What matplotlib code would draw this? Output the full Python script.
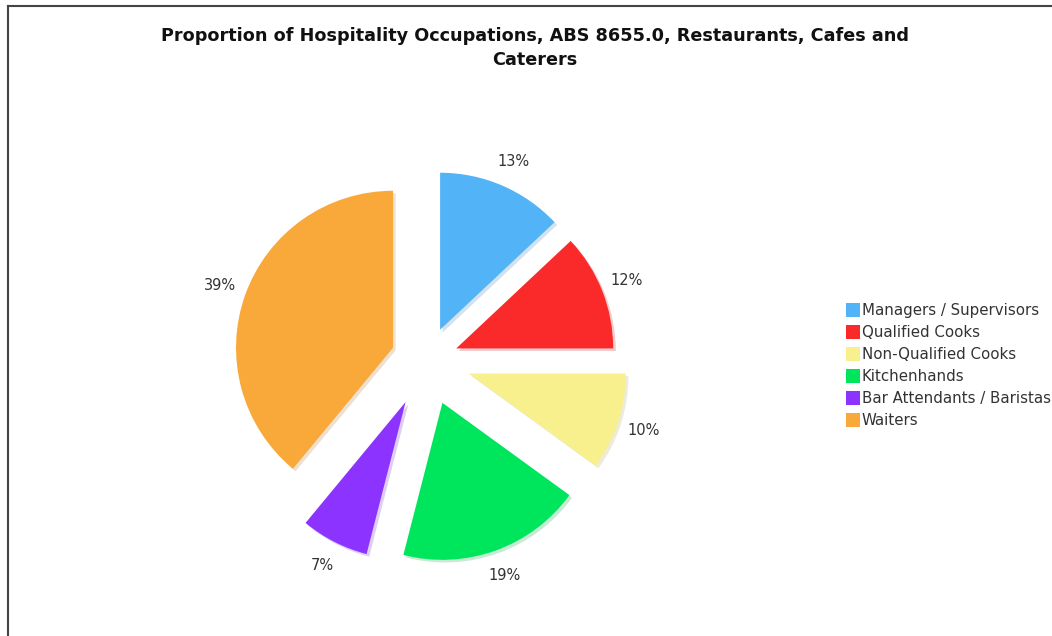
import matplotlib
matplotlib.use("Agg")
import matplotlib.pyplot as plt
from matplotlib.lines import Line2D

# data
occupations = ["Managers / Supervisors", "Qualified Cooks", "Non-Qualified Cooks",
               "Kitchenhands", "Bar Attendants / Baristas", "Waiters"]
shares = [13, 12, 10, 19, 7, 39]
colours = ["#52b4f7", "#fb2a2a", "#f7f08c", "#00e65c", "#8c33ff", "#f9a83a"]
explode = [0.21, 0.20, 0.28, 0.29, 0.30, 0.23]

title = "Proportion of Hospitality Occupations, ABS 8655.0, Restaurants, Cafes and\nCaterers"

W, H = 1052, 636
fig = plt.figure(figsize=(W / 100, H / 100), dpi=100)
fig.patch.set_facecolor("white")

# pie centre / radius in pixels
cx, cy, r = 427, 360, 157
half_w, half_h = 300, 270
ax = fig.add_axes([(cx - half_w) / W, (H - cy - half_h) / H, 2 * half_w / W, 2 * half_h / H])
wedges, _, autotexts = ax.pie(
    shares, colors=colours, explode=explode, startangle=90, counterclock=False,
    autopct="%d%%", pctdistance=1.17,
    shadow={"ox": 0.012, "oy": -0.012, "shade": 0.3, "alpha": 0.22},
    wedgeprops={"linewidth": 0},
    textprops={"fontsize": 10.5, "color": "#333333", "family": "DejaVu Sans"},
)
ax.set_xlim(-half_w / r, half_w / r)
ax.set_ylim(-half_h / r, half_h / r)
ax.set_aspect("equal")
ax.axis("off")

fig.text(535 / W, 1 - 48 / H, title, ha="center", va="center",
         fontsize=12.7, fontweight="bold", color="#111111", linespacing=1.4)

handles = [Line2D([], [], marker="s", linestyle="none", markersize=9.5,
                  markerfacecolor=c, markeredgewidth=0) for c in colours]
fig.legend(handles, occupations, loc="upper left", bbox_to_anchor=(840 / W, 1 - 296 / H),
           frameon=False, fontsize=10.8, handlelength=0.75, handletextpad=0.2,
           labelspacing=0.46, borderpad=0, labelcolor="#333333")

# top and left frame lines
fig.add_artist(Line2D([8 / W, 8 / W], [0, 1 - 6 / H], color="#444444", lw=1.5))
fig.add_artist(Line2D([8 / W, 1], [1 - 6 / H, 1 - 6 / H], color="#444444", lw=1.5))

fig.savefig("out.png", dpi=100, facecolor="white")
